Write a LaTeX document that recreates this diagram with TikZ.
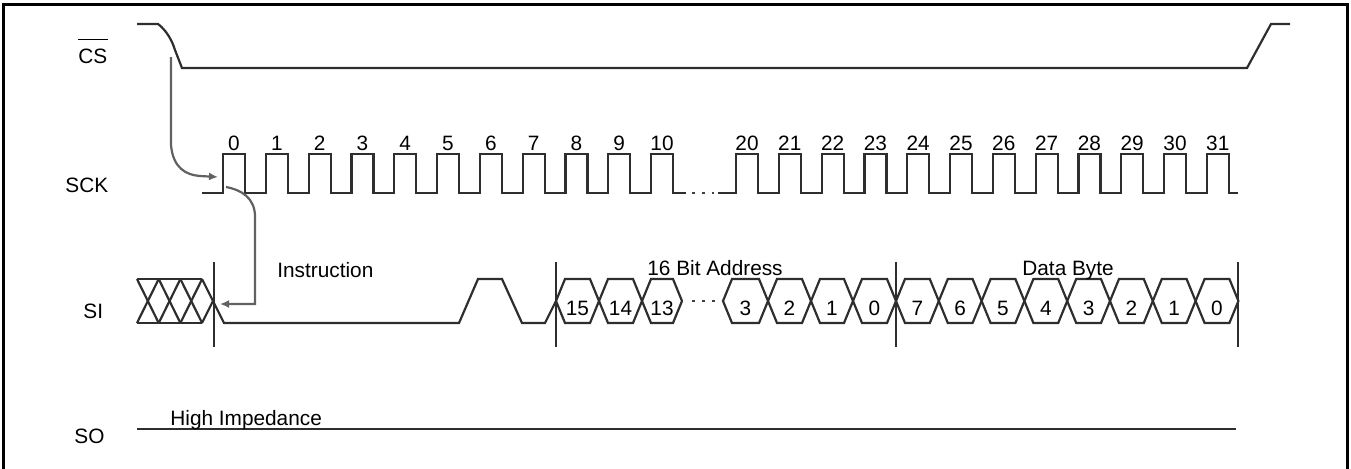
\documentclass[tikz,border=0pt]{standalone}
\usepackage{fontspec}
\setmainfont{Liberation Sans}
\usetikzlibrary{arrows.meta, positioning, calc}

\begin{document}
\begin{tikzpicture}[
            x=0.5pt, y=-0.5pt,
            signal/.style={draw=black!82, line width=1.1pt, line join=miter},
            gap/.style={draw=black!75, line width=1.1pt, dash pattern=on 1.5pt off 3.5pt},
            bound/.style={draw=black!82, line width=1pt},
            cause/.style={draw=black!62, line width=1.1pt, -{Latex[length=4.5pt, width=4pt]}},
            lbl/.style={inner sep=0pt, font=\fontsize{10.4}{12}\selectfont}
        ]
        \useasboundingbox (0,0) rectangle (1351,468);

        % --- Frame ---
        \draw[line width=1.5pt] (3,470) -- (3,4) -- (1347,4) -- (1347,470);

        % --- Signal names ---
        \node[lbl, anchor=base west] (cs_lbl) at (78,63) {CS};
        \draw[line width=0.9pt] ([yshift=4.3pt]cs_lbl.north west) -- ([yshift=4.3pt]cs_lbl.north east);
        \node[lbl, anchor=base west] (sck_lbl) at (65,192) {SCK};
        \node[lbl, anchor=base west] (si_lbl) at (83,318) {SI};
        \node[lbl, anchor=base west] (so_lbl) at (74,443) {SO};

        % --- CS ---
        \draw[signal] (137,24) -- (158,24) .. controls (166,30) and (172,40) .. (175,50) -- (182,68)
            -- (1247,68) -- (1271,24) -- (1290,24);
        \coordinate (cs_edge) at (171,57);

        % --- SCK (pulses 0..10, gap, 20..31) ---
        \draw[signal] (202,193) foreach \k in {0,...,10} {
            -- ({223+42.8*\k},193) -- ++(0,-39) -- ++(22,0) -- ++(0,39)} -- (686,193);
        \draw[gap] (692,193) -- (714,193);
        \draw[signal] (718,193) foreach \k in {0,...,11} {
            -- ({736+42.8*\k},193) -- ++(0,-39) -- ++(22,0) -- ++(0,39)} -- (1238,193);
        \foreach \k in {0,...,10}
            \node[lbl, anchor=base] (sck_num\k) at ({234+42.8*\k},150) {\k};
        \foreach \k in {20,...,31}
            \node[lbl, anchor=base] (sck_num\k) at ({747+42.8*(\k-20)},150) {\k};
        \coordinate (sck_start) at (218,177);
        \coordinate (sck_edge) at (226,187);

        % --- SI: don't care, instruction, address, data ---
        \draw[signal] (137,279) -- (202,279);
        \draw[signal] (137,323) -- (202,323);
        \foreach \a in {137,158.7,180.4} {
            \draw[signal] (\a,279) -- ({\a+21.7},323);
            \draw[signal] (\a,323) -- ({\a+21.7},279);
        }
        \draw[signal] (202,323) -- (213,301);
        \draw[signal] (202,279) -- (224,323) -- (459,323) -- (478,279) -- (502,279) -- (522,323)
            -- (545,323) -- (556,301);
        \coordinate (si_start) at (220,304);

        \foreach \a/\b/\bit in {556/599/15, 599/642/14, 642/682/13,
                                723/768/3, 768/811/2, 811/853/1, 853/896/0} {
            \draw[signal] (\a,301) -- ++(9,-22) -- ({\b-9},279) -- (\b,301) -- ({\b-9},323) -- ({\a+9},323) -- cycle;
            \node[lbl, anchor=base] (adr\bit) at ({(\a+\b)/2},315) {\bit};
        }
        \draw[gap] (692,301) -- (716,301);
        \foreach \bit [evaluate=\bit as \a using {896+42.8*(7-\bit)}] in {7,...,0} {
            \draw[signal] (\a,301) -- ++(9,-22) -- ({\a+33.8},279) -- ({\a+42.8},301) -- ({\a+33.8},323) -- ({\a+9},323) -- cycle;
            \node[lbl, anchor=base] (dat\bit) at ({\a+21.4},315) {\bit};
        }

        % --- Phase boundaries ---
        \foreach \x in {214,556,896,1238}
            \draw[bound] (\x,262) -- (\x,347);

        \node[lbl, anchor=base west] (instr) at (277,277) {Instruction};
        \node[lbl, anchor=base west] (addr) at (647,275) {16 Bit Address};
        \node[lbl, anchor=base west] (data) at (1022,275) {Data Byte};

        % --- SO ---
        \draw[signal] (137,429) -- (1236,429);
        \node[lbl, anchor=base west] (hiz) at (170,425) {High Impedance};

        % --- Cause arrows ---
        \draw[cause] (cs_edge) -- (171,145) .. controls (173,168) and (186,175) .. (200,176) -- (sck_start);
        \draw[cause] (sck_edge) .. controls (242,190) and (254,198) .. (255,215) -- (255,304) -- (si_start);

\end{tikzpicture}
\end{document}
